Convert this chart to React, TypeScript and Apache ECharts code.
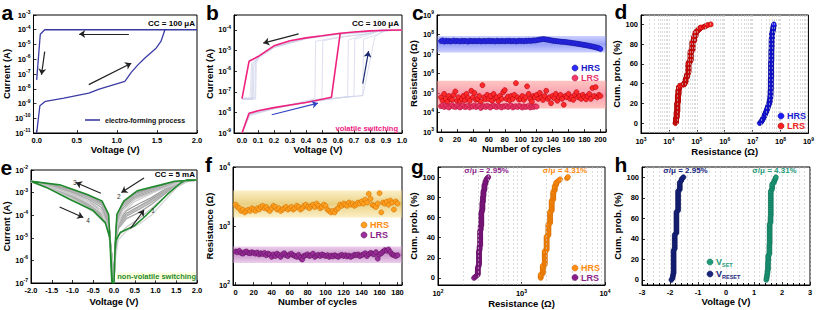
import React, { useEffect, useRef } from 'react';
import * as echarts from 'echarts';

const FONT = 'Liberation Sans, Arial, sans-serif';

// ---------- a: electro-forming ----------
const formV = [0, 0.04, 0.11, 0.34, 0.65, 0.78, 1.1, 1.18, 1.26, 1.35, 1.49, 1.55, 1.6, 2.0, 0.1, 0.045, 0.0];
const formI = [1e-11, 7e-10, 1.4e-9, 2.3e-9, 5e-9, 9.5e-9, 3.2e-8, 1.3e-7, 4e-7, 1.2e-6, 5.6e-6, 1.6e-5, 1e-4, 1e-4, 1e-4, 5e-5, 4e-8];
const aArrows = [[1.15, 5.2e-5, 0.53, 5.2e-5], [0.1, 3.3e-6, 0.06, 8.9e-8], [0.65, 1.9e-8, 1.18, 5.4e-7]];

// ---------- b: volatile switching ----------
const bPinkV = [0, 0.044, 0.1, 0.2, 0.3, 0.4, 0.5, 0.559, 0.614, 0.7, 0.8, 0.9, 1.0, 0.9, 0.8, 0.7, 0.614, 0.5, 0.4, 0.3, 0.2, 0.1, 0.044, 0];
const bPinkI = [1e-9, 9e-9, 1.2e-8, 1.7e-8, 2.3e-8, 3e-8, 4.3e-8, 5.4e-8, 6.9e-5, 8e-5, 9e-5, 9.7e-5, 1e-4, 9.7e-5, 9e-5, 8e-5, 6.9e-5, 5.2e-5, 4.1e-5, 3e-5, 1.7e-5, 5.1e-6, 3e-6, 4.6e-8];
const bGray1 = [[0, 1e-9], [0.045, 8e-9], [0.2, 1.6e-8], [0.35, 2.9e-8], [0.456, 4.6e-8], [0.46, 2.8e-5], [0.6, 4.5e-5], [0.8, 6.5e-5], [0.86, 1e-4], [1.0, 1e-4], [0.8, 8.5e-5], [0.6, 6.5e-5], [0.4, 4e-5], [0.2, 1.5e-5], [0.1, 4.5e-6], [0.065, 2.2e-6], [0.06, 4.5e-8], [0, 4.5e-8]];
const bGray2 = [[0, 1e-9], [0.045, 7.5e-9], [0.2, 1.5e-8], [0.35, 2.8e-8], [0.5, 4.8e-8], [0.505, 3e-5], [0.65, 4.8e-5], [0.8, 7e-5], [0.87, 1e-4], [1.0, 1e-4], [0.8, 8.2e-5], [0.6, 6.2e-5], [0.4, 3.8e-5], [0.2, 1.4e-5], [0.1, 4e-6], [0.075, 2e-6], [0.07, 4.2e-8], [0, 4.2e-8]];
const bGray3 = [[0, 1e-9], [0.05, 8.5e-9], [0.2, 1.7e-8], [0.4, 3.2e-8], [0.6, 5.2e-8], [0.66, 5.8e-8], [0.665, 3.2e-5], [0.75, 5.5e-5], [0.85, 9e-5], [1.0, 1e-4], [0.8, 8.8e-5], [0.6, 6.6e-5], [0.4, 4e-5], [0.2, 1.6e-5], [0.12, 7e-6], [0.085, 3e-6], [0.08, 5e-8], [0, 5e-8]];
const bGray4 = [[0, 1e-9], [0.05, 8e-9], [0.2, 1.6e-8], [0.4, 3.1e-8], [0.6, 5e-8], [0.7, 6.2e-8], [0.705, 3.5e-5], [0.8, 6e-5], [0.88, 1e-4], [1.0, 1e-4], [0.8, 8.6e-5], [0.6, 6.4e-5], [0.4, 3.9e-5], [0.2, 1.5e-5], [0.11, 5.5e-6], [0.09, 2.5e-6], [0.085, 4.4e-8], [0, 4.4e-8]];
const bGray5 = [[0, 1e-9], [0.05, 7e-9], [0.2, 1.5e-8], [0.4, 3e-8], [0.6, 5e-8], [0.755, 6.6e-8], [0.76, 3.6e-5], [0.85, 6e-5], [0.9, 1e-4], [1.0, 1e-4], [0.8, 8.4e-5], [0.6, 6.3e-5], [0.4, 3.9e-5], [0.2, 1.5e-5], [0.1, 5e-6], [0.06, 2.5e-6], [0.05, 4.8e-8], [0, 4.8e-8]];
const bGray6 = [[0, 1e-9], [0.05, 8e-9], [0.2, 1.6e-8], [0.4, 3e-8], [0.6, 5e-8], [0.755, 6.5e-8], [0.83, 4.5e-5], [0.86, 7e-5], [0.92, 1e-4], [1.0, 1e-4], [0.8, 8e-5], [0.6, 6e-5], [0.4, 3.7e-5], [0.2, 1.4e-5], [0.1, 4.8e-6], [0.07, 2.3e-6], [0.065, 4.6e-8], [0, 4.6e-8]];
const bGrayCycles = [bGray1, bGray2, bGray3, bGray4, bGray5, bGray6];
const bArrows = [[0.354, 6.4e-5, 0.133, 2.3e-5], [0.186, 7.7e-9, 0.475, 2.8e-8], [0.755, 2.5e-7, 0.791, 9.3e-6]];
const bArrowColors = ['#222222', '#3344c4', '#1c2a70'];

// ---------- c: endurance (volatile) ----------
const cStep = 2; // cycle spacing between stored points
const cHRS = [
  4.6e7, 5.0e7, 4.3e7, 4.8e7, 4.5e7, 4.7e7, 4.4e7, 4.6e7, 4.9e7, 4.5e7, 4.7e7,
  4.6e7, 4.4e7, 4.8e7, 4.5e7, 4.7e7, 4.6e7, 4.3e7, 4.8e7, 4.6e7, 4.5e7,
  4.7e7, 4.5e7, 4.6e7, 4.8e7, 4.4e7, 4.6e7, 4.7e7, 4.5e7, 4.6e7, 4.8e7,
  4.5e7, 4.7e7, 4.6e7, 4.4e7, 4.8e7, 4.6e7, 4.5e7, 4.7e7, 4.6e7, 4.5e7,
  4.7e7, 4.6e7, 4.8e7, 4.5e7, 4.6e7, 4.7e7, 4.4e7, 4.6e7, 4.8e7, 4.6e7,
  4.7e7, 4.5e7, 4.8e7, 4.6e7, 4.9e7, 4.7e7, 4.8e7, 5.0e7, 4.9e7, 5.1e7,
  5.3e7, 5.5e7, 5.6e7, 5.8e7, 5.7e7, 5.5e7, 5.4e7, 5.2e7, 5.0e7, 4.8e7,
  4.7e7, 4.6e7, 4.5e7, 4.4e7, 4.3e7, 4.2e7, 4.2e7, 4.1e7, 4.0e7, 3.9e7,
  3.8e7, 3.7e7, 3.6e7, 3.5e7, 3.4e7, 3.3e7, 3.2e7, 3.1e7, 3.0e7, 2.9e7,
  2.8e7, 2.7e7, 2.6e7, 2.5e7, 2.4e7, 2.3e7, 2.2e7, 2.1e7, 2.0e7, 1.8e7,
];
const cLRSlow = [
  2.1e4, 2.3e4, 1.9e4, 2.2e4, 2.0e4, 1.8e4, 2.1e4, 2.4e4, 2.0e4, 1.9e4,
  2.2e4, 2.0e4, 1.8e4, 2.1e4, 2.3e4, 1.9e4, 2.0e4, 2.2e4, 1.8e4, 2.1e4,
  2.0e4, 2.3e4, 1.9e4, 2.1e4, 2.2e4, 1.7e4, 2.0e4, 2.1e4, 1.9e4, 2.2e4,
  2.0e4, 1.8e4, 2.1e4, 2.3e4, 2.0e4, 1.9e4, 2.2e4, 2.0e4, 1.8e4, 2.1e4,
  2.0e4, 2.2e4, 1.9e4, 2.1e4, 2.3e4, 1.8e4, 2.0e4, 2.1e4, 1.9e4, 2.2e4,
  2.0e4, 1.8e4, 2.1e4, 1.9e4, 2.0e4, 2.2e4, 1.8e4, 2.0e4, 1.9e4, 2.1e4, 2.0e4,
];
const cLRShigh = [
  6e4, 4e4, 9e4, 5e4, 3.5e4, 7e4, 5e4, 4.5e4, 8e4, 12e4,
  4e4, 6e4, 3.8e4, 5e4, 7e4, 4.2e4, 9e4, 5.5e4, 4e4, 13e4,
  6e4, 10e4, 4.5e4, 5e4, 7e4, 3.6e4, 25e4, 6e4, 4.8e4, 8e4,
  5e4, 7e4, 4e4, 9e4, 5.5e4, 6e4, 3.8e4, 7e4, 5e4, 11e4,
  14e4, 5e4, 6.5e4, 4.2e4, 7e4, 5e4, 8e4, 32e4, 6e4, 4.6e4,
  5e4, 7e4, 4.5e4, 6e4, 22e4, 9e4, 5e4, 3.6e4, 7e4, 6e4,
  8e4, 5e4, 10e4, 6e4, 4.4e4, 7e4, 13e4, 5e4, 6e4, 3e4,
  7e4, 5.5e4, 9e4, 4e4, 6e4, 8e4, 5e4, 2.5e4, 7e4, 6e4,
  9e4, 5e4, 6e4, 4.5e4, 8e4, 11e4, 6e4, 7e4, 5e4, 8e4,
  6e4, 4.8e4, 7e4, 9e4, 5e4, 18e4, 7e4, 20e4, 6e4, 8e4, 7e4,
];
const cHRSBand = [1.2e7, 8.3e7];
const cLRSBand = [1.6e4, 4.2e5];

// ---------- e: non-volatile I-V ----------
const eSetV = [0, 0.03, 0.1, 0.3, 0.6, 0.9, 1.2, 1.5, 1.8, 2.0];
const eResetV = [2.0, 1.5, 1.0, 0.5, 0.2, 0.07, 0.03, 0];
const eNegV = [0, -0.04, -0.09, -0.15, -0.3, -0.6, -1.0, -1.5, -2.0];
const eNegRetV = [-2.0, -1.6, -1.0, -0.5, -0.2, -0.1, -0.06, 0];
const eGrayLoops = [
  { c: '#a0a0a0', set: [1e-7, 5e-6, 4e-5, 1.2e-4, 2.5e-4, 5e-4, 1.1e-3, 2.6e-3, 3.6e-3, 3.6e-3], reset: [3.6e-3, 3e-3, 1.7e-3, 9e-4, 3e-4, 8e-5, 4e-6, 1e-7], neg: [1e-7, 1e-6, 8e-6, 9e-5, 3.5e-4, 7e-4, 1.2e-3, 2.2e-3, 3.2e-3], ret: [3.2e-3, 2e-3, 7e-4, 2.3e-4, 7e-5, 1.6e-5, 1e-6, 1e-7] },
  { c: '#aaaaaa', set: [1e-7, 4e-6, 3e-5, 9e-5, 1.8e-4, 3.8e-4, 9e-4, 2.4e-3, 3.6e-3, 3.6e-3], reset: [3.6e-3, 2.8e-3, 1.5e-3, 7e-4, 2.5e-4, 6e-5, 3e-6, 1e-7], neg: [1e-7, 1e-6, 6e-6, 7e-5, 2.8e-4, 6e-4, 1.1e-3, 2e-3, 3.1e-3], ret: [3.1e-3, 1.9e-3, 6.5e-4, 2e-4, 6e-5, 1.4e-5, 1e-6, 1e-7] },
  { c: '#a6a6a6', set: [1e-7, 3e-6, 2.5e-5, 7e-5, 1.3e-4, 3e-4, 8e-4, 2.2e-3, 3.6e-3, 3.6e-3], reset: [3.6e-3, 2.7e-3, 1.3e-3, 6e-4, 2e-4, 5e-5, 3e-6, 1e-7], neg: [1e-7, 1e-6, 5e-6, 5e-5, 2.2e-4, 5e-4, 1e-3, 1.9e-3, 3e-3], ret: [3e-3, 1.8e-3, 6e-4, 1.9e-4, 5.5e-5, 1.2e-5, 1e-6, 1e-7] },
  { c: '#9c9c9c', set: [1e-7, 6e-6, 5e-5, 1.6e-4, 3.2e-4, 6e-4, 1.3e-3, 2.9e-3, 3.6e-3, 3.6e-3], reset: [3.6e-3, 3.1e-3, 1.8e-3, 1e-3, 3.4e-4, 9e-5, 4e-6, 1e-7], neg: [1e-7, 1e-6, 7e-6, 1e-4, 3.8e-4, 7.5e-4, 1.3e-3, 2.3e-3, 3.2e-3], ret: [3.2e-3, 2.1e-3, 8e-4, 2.8e-4, 8.5e-5, 2e-5, 1e-6, 1e-7] },
  { c: '#b2b2b2', set: [1e-7, 5e-6, 3.5e-5, 1e-4, 2.2e-4, 4.5e-4, 1e-3, 2.5e-3, 3.6e-3, 3.6e-3], reset: [3.6e-3, 2.9e-3, 1.6e-3, 8e-4, 2.8e-4, 7e-5, 3.5e-6, 1e-7], neg: [1e-7, 1e-6, 7e-6, 8e-5, 3.2e-4, 6.5e-4, 1.15e-3, 2.1e-3, 3.15e-3], ret: [3.15e-3, 1.95e-3, 6.8e-4, 2.1e-4, 6.5e-5, 1.5e-5, 1e-6, 1e-7] },
  { c: '#d6d6d6', set: [1e-7, 1e-6, 8e-6, 2e-5, 4e-5, 1e-4, 4e-4, 1.6e-3, 3.4e-3, 3.6e-3], reset: [3.6e-3, 2.5e-3, 1.1e-3, 4e-4, 1.2e-4, 3e-5, 2e-6, 1e-7], neg: [1e-7, 8e-7, 4e-6, 3e-5, 1.3e-4, 3.5e-4, 8e-4, 1.7e-3, 2.9e-3], ret: [2.9e-3, 1.6e-3, 5e-4, 1.4e-4, 4e-5, 9e-6, 8e-7, 1e-7] },
  { c: '#c4c4c4', set: [1e-7, 2e-6, 1.2e-5, 3e-5, 7e-5, 2e-4, 6e-4, 1.9e-3, 3.5e-3, 3.6e-3], reset: [3.6e-3, 2.6e-3, 1.2e-3, 5e-4, 1.6e-4, 4e-5, 2e-6, 1e-7], neg: [1e-7, 8e-7, 4e-6, 4e-5, 1.7e-4, 4.2e-4, 9e-4, 1.8e-3, 3e-3], ret: [3e-3, 1.7e-3, 5.5e-4, 1.7e-4, 5e-5, 1e-5, 9e-7, 1e-7] },
];
const eGreen = [
  [0.0, 1e-7], [0.02, 2e-6], [0.05, 8e-6], [0.15, 1.7e-5], [0.48, 3.3e-5], [0.72, 7.9e-5], [0.97, 2.2e-4], [1.29, 8.5e-4], [1.62, 2.8e-3], [1.75, 3.6e-3], [2.0, 3.6e-3],
  [1.46, 3.2e-3], [1.13, 2.2e-3], [0.56, 1.2e-3], [0.24, 4.3e-4], [0.07, 1.1e-4], [0.03, 5e-6], [0.0, 1e-7],
  [-0.04, 1e-7], [-0.09, 5e-6], [-0.13, 1.1e-4], [-0.29, 4.3e-4], [-0.66, 8.5e-4], [-1.31, 2.2e-3], [-2.0, 3.2e-3],
  [-1.63, 1.7e-3], [-1.07, 5.1e-4], [-0.5, 1.6e-4], [-0.21, 4.7e-5], [-0.1, 1e-5], [-0.07, 4.6e-7], [-0.05, 1e-7],
];
const eArrows = [[0.398, 2.6e-5, 0.724, 1.7e-4], [0.724, 4.4e-3, 0.178, 1.0e-3], [-0.317, 9.3e-4, -0.92, 2.8e-3], [-1.31, 2.3e-4, -0.739, 7.9e-5]];

// ---------- f: endurance (non-volatile) ----------
const fStep = 2;
const fHRS = [
  2.3e3, 2.1e3, 2.0e3, 1.8e3, 1.9e3, 1.7e3, 1.8e3, 1.9e3, 1.8e3, 2.0e3,
  1.9e3, 1.8e3, 2.0e3, 1.9e3, 2.1e3, 2.2e3, 2.0e3, 2.1e3, 1.9e3, 1.8e3,
  2.0e3, 2.2e3, 2.1e3, 1.9e3, 2.0e3, 1.8e3, 1.9e3, 2.0e3, 2.1e3, 1.9e3,
  2.0e3, 2.1e3, 1.9e3, 2.0e3, 2.2e3, 2.1e3, 1.9e3, 2.0e3, 2.2e3, 2.3e3,
  2.1e3, 2.0e3, 2.2e3, 2.3e3, 2.1e3, 2.4e3, 2.2e3, 2.0e3, 2.1e3, 2.3e3,
  2.2e3, 1.9e3, 1.8e3, 1.7e3, 1.8e3, 1.7e3, 1.9e3, 2.0e3, 2.3e3, 2.2e3,
  2.4e3, 2.3e3, 2.2e3, 2.5e3, 2.3e3, 2.4e3, 2.2e3, 2.3e3, 2.5e3, 2.4e3,
  2.6e3, 2.4e3, 2.8e3, 2.5e3, 3.5e3, 2.9e3, 2.3e3, 2.2e3, 2.1e3, 2.4e3,
  3.6e3, 1.7e3, 2.5e3, 2.4e3, 2.6e3, 2.3e3, 2.7e3, 2.5e3, 1.9e3, 2.6e3, 2.4e3,
];
const fLRS = [
  370, 360, 380, 350, 340, 360, 370, 350, 345, 360,
  350, 340, 355, 330, 345, 335, 350, 320, 340, 330,
  300, 330, 310, 340, 320, 300, 330, 345, 320, 310,
  330, 340, 320, 310, 300, 325, 290, 270, 310, 320,
  330, 310, 320, 340, 300, 315, 325, 310, 330, 320,
  310, 320, 300, 315, 305, 320, 310, 300, 315, 325,
  310, 320, 305, 315, 300, 310, 325, 320, 330, 310,
  320, 330, 345, 310, 335, 350, 340, 330, 360, 280,
  330, 345, 370, 390, 380, 400, 360, 330, 320, 310, 320,
];
const fHRSBand = [1.4e3, 4.0e3];
const fLRSBand = [235, 450];

// ---------- h: switching voltages ----------
const hVSET = [
  1.44, 1.45, 1.46, 1.47, 1.48, 1.48, 1.5, 1.5, 1.51, 1.5, 1.51, 1.5, 1.51, 1.5, 1.51,
  1.56, 1.55, 1.56, 1.56, 1.55, 1.56, 1.56, 1.56, 1.55, 1.56, 1.56, 1.55, 1.56, 1.56, 1.55, 1.56, 1.56, 1.55,
  1.6, 1.6, 1.59, 1.6, 1.6, 1.6, 1.6, 1.59, 1.6, 1.6, 1.6, 1.59, 1.6, 1.6, 1.6, 1.6, 1.59, 1.6, 1.6,
  1.65, 1.65, 1.64, 1.65, 1.71, 1.73, 1.76, 1.78,
];
const hVRESET = [
  -1.95, -1.91, -1.9, -1.89,
  -1.87, -1.87, -1.87, -1.87, -1.87, -1.87, -1.87, -1.87, -1.87, -1.87, -1.87, -1.87, -1.87, -1.87,
  -1.83, -1.83, -1.83, -1.83, -1.83, -1.83, -1.83, -1.83, -1.83,
  -1.77, -1.77, -1.77, -1.77, -1.77, -1.77, -1.77, -1.77, -1.77, -1.77, -1.77, -1.77, -1.77,
  -1.71, -1.71, -1.71, -1.71, -1.71, -1.71, -1.71, -1.71, -1.71, -1.71, -1.71, -1.71,
  -1.65, -1.65, -1.65, -1.65, -1.65, -1.6, -1.58, -1.52,
];

// ---------- helpers ----------
const cdf = (vals: number[]) => {
  const s = [...vals].sort((a, b) => a - b);
  return s.map((v, i) => [v, (i / (s.length - 1)) * 100]);
};
const byCycle = (arr: number[], step: number) => arr.map((v, i) => [i * step, v]);
const pairs = (xs: number[], ys: number[]) => xs.map((x, i) => [x, ys[i]]);

const GRIDS = [
  { left: 29, top: 15, width: 168, height: 118 },
  { left: 234, top: 15, width: 168, height: 118 },
  { left: 437, top: 15, width: 169, height: 117 },
  { left: 641, top: 15, width: 169, height: 118 },
  { left: 31, top: 170, width: 166, height: 113 },
  { left: 233, top: 167, width: 169, height: 118 },
  { left: 438, top: 167, width: 167, height: 118 },
  { left: 642, top: 167, width: 168, height: 118 },
];

const baseAxis = (gi: number, name: string, gap: number) => ({
  gridIndex: gi,
  name,
  nameGap: gap,
  nameLocation: 'middle',
  nameTextStyle: { fontSize: 9.5, fontWeight: 'bold', fontFamily: FONT, color: '#000' },
  axisLine: { show: true, onZero: false, lineStyle: { color: '#000', width: 1 } },
  axisTick: { show: true, inside: true, length: 3, lineStyle: { color: '#000', width: 0.8 } },
  splitLine: { show: false },
});
const numLabel = (step: number, dec: number) => ({
  fontSize: 7.5, fontWeight: 'bold', fontFamily: FONT, color: '#000', margin: 3, interval: 0,
  formatter: (v: number) => {
    const k = v / step;
    return Math.abs(k - Math.round(k)) < 1e-6 ? v.toFixed(dec) : '';
  },
});
const logLabel = {
  margin: 3, interval: 0, color: '#000',
  formatter: (v: number) => {
    const e = Math.log10(v);
    const r = Math.round(e);
    return Math.abs(e - r) < 1e-6 ? `{b|10}{s|${r}}` : '';
  },
  rich: {
    b: { fontSize: 7.5, fontWeight: 'bold', fontFamily: FONT, color: '#000', lineHeight: 11 },
    s: { fontSize: 5, fontWeight: 'bold', fontFamily: FONT, color: '#000', lineHeight: 5, verticalAlign: 'top' },
  },
};
const linX = (gi: number, name: string, gap: number, min: number, max: number, step: number, dec: number, extra: any = {}) => ({
  ...baseAxis(gi, name, gap), type: 'value', min, max, axisLabel: numLabel(step, dec), ...extra,
});
const logAx = (gi: number, name: string, gap: number, min: number, max: number) => ({
  ...baseAxis(gi, name, gap), type: 'log', logBase: 10, min, max, axisLabel: logLabel,
});

const arrowML = (list: number[][], colors: string[]) => ({
  silent: true,
  symbol: ['none', 'arrow'],
  symbolSize: 6,
  label: { show: false },
  emphasis: { disabled: true },
  lineStyle: { color: '#222', width: 1.2, type: 'solid' },
  data: list.map((a, i) => [
    { coord: [a[0], a[1]], lineStyle: { color: colors[i % colors.length], width: 1.2, type: 'solid' } },
    { coord: [a[2], a[3]] },
  ]),
});
const bandGradient = (edge: string, mid: string) =>
  new echarts.graphic.LinearGradient(0, 0, 0, 1, [
    { offset: 0, color: edge },
    { offset: 0.5, color: mid },
    { offset: 1, color: edge },
  ]);

const logGridValues = (e0: number, e1: number) => {
  const out: number[] = [];
  for (let e = e0; e < e1; e++) {
    for (let m = 1; m <= 9; m++) {
      if (e === e0 && m === 1) continue;
      out.push(m * Math.pow(10, e));
    }
  }
  return out;
};
const gridLineSeries = (gi: number, vals: number[]) => ({
  type: 'line', xAxisIndex: gi, yAxisIndex: gi, data: [], z: 1, silent: true,
  markLine: {
    silent: true, symbol: ['none', 'none'], label: { show: false },
    lineStyle: { color: '#c4c4c4', width: 0.6, type: [2, 2] },
    data: vals.map((v) => ({ xAxis: v })),
  },
});
const bandSeries = (gi: number, bands: { lo: number; hi: number; edge: string; mid: string }[]) => ({
  type: 'line', xAxisIndex: gi, yAxisIndex: gi, data: [], z: 1, silent: true,
  markArea: {
    silent: true,
    data: bands.map((b) => [
      { yAxis: b.lo, itemStyle: { color: bandGradient(b.edge, b.mid) } },
      { yAxis: b.hi },
    ]),
  },
});
const scatter = (name: string, gi: number, data: number[][], color: string, border: string, size = 5) => ({
  type: 'scatter', name, xAxisIndex: gi, yAxisIndex: gi, data, symbol: 'circle', symbolSize: size, z: 3,
  itemStyle: { color, borderColor: border, borderWidth: 0.6, opacity: 1 },
});

const txt = (text: string, x: number, y: number, size: number, color = '#000', align = 'left', weight = 'bold', extra: any = {}) => ({
  type: 'text', x, y, silent: true, z: 100,
  style: { text, fill: color, font: `${weight} ${size}px ${FONT}`, align, verticalAlign: 'middle', ...extra },
});
// legend entry drawn as a marker + label
const legendEntry = (cx: number, cy: number, fill: string, stroke: string, label: string, color: string, rich?: any) => [
  { type: 'circle', silent: true, z: 100, shape: { cx, cy, r: 3 }, style: { fill, stroke, lineWidth: 0.6 } },
  rich
    ? { type: 'text', x: cx + 6, y: cy, silent: true, z: 100, style: { text: label, rich, fill: color, font: `bold 9px ${FONT}`, verticalAlign: 'middle' } }
    : txt(label, cx + 6, cy, 9, color),
];
const subRich = (color: string) => ({
  v: { fontSize: 9, fontWeight: 'bold', fontFamily: FONT, fill: color, color, lineHeight: 12 },
  s: { fontSize: 5.5, fontWeight: 'bold', fontFamily: FONT, fill: color, color, lineHeight: 6, verticalAlign: 'bottom' },
});

function buildOption(): any {
  const grids = GRIDS.map((g) => ({ ...g, show: true, borderColor: '#000', borderWidth: 1, backgroundColor: 'transparent' }));

  const xAxis = [
    linX(0, 'Voltage (V)', 9, -0.04, 2.0, 0.5, 1, { splitNumber: 4 }),
    linX(1, 'Voltage (V)', 9, -0.05, 1.0, 0.1, 1, { splitNumber: 10 }),
    linX(2, 'Number of cycles', 9, -5, 207, 20, 0, { splitNumber: 10 }),
    logAx(3, 'Resistance (Ω)', 9, 1e3, 1e9),
    linX(4, 'Voltage (V)', 13, -2, 2, 0.5, 1, { interval: 0.5 }),
    linX(5, 'Number of cycles', 11, -3, 185, 20, 0, { splitNumber: 9 }),
    logAx(6, 'Resistance (Ω)', 10, 1e2, 1e4),
    linX(7, 'Voltage (V)', 9, -3, 3, 1, 0, {
      interval: 1,
      splitLine: { show: true, lineStyle: { color: '#c4c4c4', width: 0.6, type: [2, 2] } },
      minorTick: { show: true, splitNumber: 5, length: 2 },
      minorSplitLine: { show: true, lineStyle: { color: '#c4c4c4', width: 0.6, type: [2, 2] } },
    }),
  ];
  const yAxis = [
    logAx(0, 'Current (A)', 16, 1e-11, 1e-3),
    logAx(1, 'Current (A)', 14, 1e-9, 5.3e-4),
    logAx(2, 'Resistance (Ω)', 14, 1e3, 1e9),
    linX(3, 'Cum. prob. (%)', 15, -10, 109.5, 20, 0, { splitNumber: 6 }),
    logAx(4, 'Current (A)', 16, 1e-7, 1e-2),
    logAx(5, 'Resistance (Ω)', 13, 1e2, 1e4),
    linX(6, 'Cum. prob. (%)', 16, -7, 110, 20, 0, { splitNumber: 6 }),
    linX(7, 'Cum. prob. (%)', 17, -5, 110, 20, 0, { splitNumber: 6 }),
  ];

  const series: any[] = [];
  // a
  series.push({
    type: 'line', name: 'a:electro-forming process', xAxisIndex: 0, yAxisIndex: 0,
    data: pairs(formV, formI), showSymbol: false, symbol: 'none',
    lineStyle: { color: '#3b3ba6', width: 1.3 }, itemStyle: { color: '#3b3ba6' },
    markLine: arrowML(aArrows, ['#222222']),
  });
  // b
  bGrayCycles.forEach((cyc) => {
    series.push({
      type: 'line', xAxisIndex: 1, yAxisIndex: 1, data: cyc, showSymbol: false, symbol: 'none', z: 2,
      lineStyle: { color: '#cfd2ea', width: 0.7 },
    });
  });
  series.push({
    type: 'line', xAxisIndex: 1, yAxisIndex: 1, data: pairs(bPinkV, bPinkI), showSymbol: false, symbol: 'none', z: 3,
    lineStyle: { color: '#f0207e', width: 1.6 },
    markLine: arrowML(bArrows, bArrowColors),
  });
  // c
  series.push(bandSeries(2, [
    { lo: cHRSBand[0], hi: cHRSBand[1], edge: 'rgba(140,150,255,0.45)', mid: 'rgba(80,95,245,0.6)' },
    { lo: cLRSBand[0], hi: cLRSBand[1], edge: 'rgba(255,150,140,0.55)', mid: 'rgba(245,95,125,0.62)' },
  ]));
  series.push(scatter('c:HRS', 2, byCycle(cHRS, cStep), '#2c2cff', '#10108a'));
  series.push(scatter('c:LRS', 2, byCycle(cLRShigh, cStep), '#ff2a2a', '#b00010'));
  series.push(scatter('c:LRS', 2, byCycle(cLRSlow, cStep), '#f23a6a', '#b0103a'));
  // d
  series.push(gridLineSeries(3, logGridValues(3, 9)));
  series.push(scatter('d:HRS', 3, cdf(cHRS), '#1a1aff', '#0a0a90'));
  series.push(scatter('d:LRS', 3, cdf([...cLRSlow, ...cLRShigh]), '#ff2020', '#a00000'));
  // e
  eGrayLoops.forEach((g) => {
    series.push({
      type: 'line', xAxisIndex: 4, yAxisIndex: 4, showSymbol: false, symbol: 'none', z: 2,
      data: [...pairs(eSetV, g.set), ...pairs(eResetV, g.reset), ...pairs(eNegV, g.neg), ...pairs(eNegRetV, g.ret)],
      lineStyle: { color: g.c, width: 1.3 },
    });
  });
  series.push({
    type: 'line', xAxisIndex: 4, yAxisIndex: 4, data: eGreen, showSymbol: false, symbol: 'none', z: 3,
    lineStyle: { color: '#1e8a2c', width: 1.6 },
    markLine: arrowML(eArrows, ['#222222']),
  });
  // f
  series.push(bandSeries(5, [
    { lo: fHRSBand[0], hi: fHRSBand[1], edge: 'rgba(245,222,140,0.5)', mid: 'rgba(222,182,60,0.65)' },
    { lo: fLRSBand[0], hi: fLRSBand[1], edge: 'rgba(215,160,215,0.5)', mid: 'rgba(170,80,170,0.6)' },
  ]));
  series.push(scatter('f:HRS', 5, byCycle(fHRS, fStep), '#ffa020', '#d07000'));
  series.push(scatter('f:LRS', 5, byCycle(fLRS, fStep), '#9a2f9a', '#5e0e5e'));
  // g
  series.push(gridLineSeries(6, logGridValues(2, 4)));
  series.push(scatter('g:HRS', 6, cdf(fHRS), '#ff8c10', '#d06a00'));
  series.push(scatter('g:LRS', 6, cdf(fLRS), '#8c1f8c', '#5a0a5a'));
  // h
  series.push(scatter('h:VSET', 7, cdf(hVSET), '#1d9a78', '#0c6a50'));
  series.push(scatter('h:VRESET', 7, cdf(hVRESET), '#18247e', '#0a1050'));

  const legend = [
    {
      left: 85, top: 115, orient: 'horizontal', padding: 0, itemWidth: 15, itemHeight: 1.6, icon: 'rect', selectedMode: false,
      formatter: (n: string) => n.split(':')[1],
      textStyle: { fontSize: 7, fontWeight: 'bold', fontFamily: FONT, color: '#111', lineHeight: 10 },
      data: [{ name: 'a:electro-forming process' }],
    },
  ];

  const graphic = [
    txt('a', 1.5, 12.2, 21), txt('b', 206, 12.2, 21), txt('c', 412, 12.2, 21), txt('d', 614.5, 11.5, 21),
    txt('e', 0.5, 167.5, 21), txt('f', 205, 164.5, 21), txt('g', 411, 166.5, 21), txt('h', 614.5, 164.7, 21),
    txt('CC = 100 μA', 195, 23.7, 8, '#000', 'right'),
    txt('CC = 100 μA', 399, 23.7, 8, '#000', 'right'),
    txt('volatile switching', 398, 128.7, 7.5, '#f0207e', 'right'),
    txt('CC = 5 mA', 195, 174.7, 8, '#000', 'right'),
    txt('non-volatile switching', 196, 276.6, 7.5, '#1e8a2c', 'right', 'bold', { backgroundColor: 'rgba(255,255,215,0.85)' }),
    txt('1', 153, 210.7, 6.5, '#333', 'center', 'normal'),
    txt('2', 118.7, 196, 6.5, '#333', 'center', 'normal'),
    txt('3', 74.7, 182, 6.5, '#333', 'center', 'normal'),
    txt('4', 88, 220.7, 6.5, '#333', 'center', 'normal'),
    txt('σ/μ = 2.95%', 486.5, 170.2, 8, '#8c1f8c', 'center'),
    txt('σ/μ = 4.31%', 565, 170.2, 8, '#ff8c10', 'center'),
    txt('σ/μ = 2.95%', 685.5, 170.2, 8, '#18247e', 'center'),
    txt('σ/μ = 4.31%', 774.5, 170.2, 8, '#1d9a78', 'center'),
    ...legendEntry(575, 68, '#2c2cff', '#10108a', 'HRS', '#2222c8'),
    ...legendEntry(575, 78, '#f23a6a', '#b0103a', 'LRS', '#e8336a'),
    ...legendEntry(781, 116, '#1a1aff', '#0a0a90', 'HRS', '#1a1ad0'),
    ...legendEntry(781, 126, '#ff2020', '#a00000', 'LRS', '#ee2222'),
    ...legendEntry(364, 225, '#ffa020', '#d07000', 'HRS', '#ff8c10'),
    ...legendEntry(364, 235, '#9a2f9a', '#5e0e5e', 'LRS', '#8c1f8c'),
    ...legendEntry(575, 268, '#ff8c10', '#d06a00', 'HRS', '#ff8c10'),
    ...legendEntry(575, 277.5, '#8c1f8c', '#5a0a5a', 'LRS', '#8c1f8c'),
    ...legendEntry(710, 262, '#1d9a78', '#0c6a50', '{v|V}{s|SET}', '#1d9a78', subRich('#1d9a78')),
    ...legendEntry(710, 274, '#18247e', '#0a1050', '{v|V}{s|RESET}', '#18247e', subRich('#18247e')),
  ];

  return {
    animation: false,
    backgroundColor: '#fff',
    textStyle: { fontFamily: FONT },
    grid: grids,
    xAxis,
    yAxis,
    series,
    legend,
    graphic,
  };
}

export default function App() {
  const ref = useRef<HTMLDivElement>(null);
  useEffect(() => {
    const chart = echarts.init(ref.current as HTMLDivElement, null, { renderer: 'svg' });
    chart.setOption(buildOption());
    return () => chart.dispose();
  }, []);
  return (
    <div
      ref={ref}
      style={{ position: 'absolute', left: 0, top: 0, width: 817, height: 310, background: '#fff' }}
    />
  );
}
